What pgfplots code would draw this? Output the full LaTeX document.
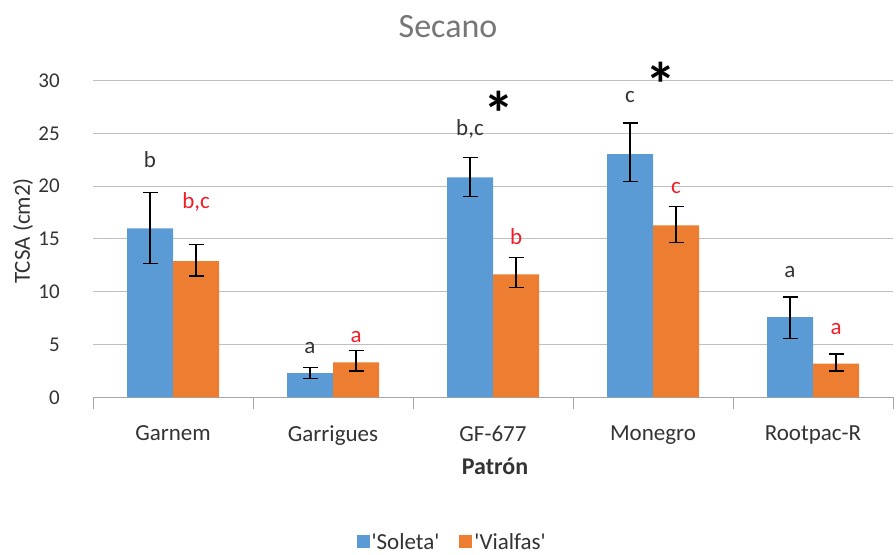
\documentclass[border=0pt]{standalone}
\usepackage{pgfplots}
\pgfplotsset{compat=1.18}
\usepackage{fontspec}
\setmainfont{Carlito}
\definecolor{sblue}{HTML}{5B9BD5}
\definecolor{sorange}{HTML}{ED7D31}
\definecolor{gridgray}{HTML}{BFBFBF}
\definecolor{axgray}{HTML}{A6A6A6}
\definecolor{lred}{HTML}{F01E28}
\definecolor{titlegray}{HTML}{767676}
\definecolor{txt}{HTML}{333333}
\begin{document}
\begin{tikzpicture}[x=1pt,y=1pt]
\path[use as bounding box] (0,0) rectangle (896,554);
\begin{axis}[
  at={(93pt,156.7pt)}, anchor=south west,
  scale only axis, width=800pt, height=316.6pt,
  ymin=0, ymax=30, xmin=-0.5, xmax=4.5,
  enlarge x limits=false,
  clip=false,
  axis lines*=left,
  y axis line style={draw=none},
  x axis line style={axgray, line width=1.2pt},
  ytick={0,5,...,30},
  ymajorgrids,
  grid style={gridgray, line width=1pt},
  major y tick style={draw=none},
  xtick={0,1,2,3,4},
  xticklabels={Garnem,Garrigues,GF-677,Monegro,Rootpac-R},
  major x tick style={draw=none},
  minor xtick={-0.5,0.5,1.5,2.5,3.5,4.5},
  minor x tick style={axgray, line width=1pt},
  minor tick length=12pt,
  tick align=center,
  yticklabel style={font=\fontsize{21}{21}\selectfont, text=txt, anchor=east, inner sep=0pt, xshift=-31pt},
  xticklabel style={font=\fontsize{23}{23}\selectfont, text=txt, anchor=north, inner sep=0pt, yshift=-24pt},
  /pgf/number format/assume math mode=true,
  ybar=0pt, bar width=46pt,
  legend style={at={(axis description cs:0.449,-0.457)}, anchor=center, draw=none,
    font=\fontsize{23}{23}\selectfont, text=txt,
    /tikz/every even column/.append style={column sep=18pt}},
  legend columns=2,
  legend image code/.code={\fill[#1] (0pt,-6.5pt) rectangle (13pt,6.5pt);},
]
\addplot[fill=sblue, draw=none,
  error bars/.cd, y dir=both, y explicit,
  error bar style={black, line width=1.2pt},
  error mark options={rotate=90, black, mark size=7.5pt, line width=1.2pt}]
coordinates {
  (0,16.0) += (0,3.4) -= (0,3.3)
  (1,2.3) += (0,0.55) -= (0,0.5)
  (2,20.85) += (0,1.9) -= (0,1.85)
  (3,23.05) += (0,2.95) -= (0,2.6)
  (4,7.6) += (0,1.9) -= (0,2.0)
};
\addlegendentry{\textquotesingle Soleta\textquotesingle}
\addplot[fill=sorange, draw=none,
  error bars/.cd, y dir=both, y explicit,
  error bar style={black, line width=1.2pt},
  error mark options={rotate=90, black, mark size=7.5pt, line width=1.2pt}]
coordinates {
  (0,12.9) += (0,1.6) -= (0,1.4)
  (1,3.3) += (0,1.15) -= (0,0.8)
  (2,11.65) += (0,1.6) -= (0,1.25)
  (3,16.3) += (0,1.75) -= (0,1.6)
  (4,3.2) += (0,0.9) -= (0,0.7)
};
\addlegendentry{\textquotesingle Vialfas\textquotesingle}
% significance letters
\tikzset{lt/.style={font=\fontsize{23}{23}\selectfont, inner sep=0pt}}
\node[lt, text=txt] at (axis cs:-0.144,22.5) {b};
\node[lt, text=lred] at (axis cs:0.144,18.5) {b,c};
\node[lt, text=txt] at (axis cs:0.856,4.67) {a};
\node[lt, text=lred] at (axis cs:1.144,5.74) {a};
\node[lt, text=txt] at (axis cs:1.856,25.4) {b,c};
\node[lt, text=lred] at (axis cs:2.144,15.2) {b};
\node[lt, text=txt] at (axis cs:2.856,28.5) {c};
\node[lt, text=lred] at (axis cs:3.144,19.8) {c};
\node[lt, text=txt] at (axis cs:3.856,11.9) {a};
\node[lt, text=lred] at (axis cs:4.144,6.5) {a};
\node[font=\bfseries\fontsize{62}{62}\selectfont, inner sep=0pt, anchor=north] at (axis cs:2.04,29.0) {*};
\node[font=\bfseries\fontsize{62}{62}\selectfont, inner sep=0pt, anchor=north] at (axis cs:3.05,31.8) {*};
\end{axis}
\node[text=titlegray, font=\fontsize{34}{34}\selectfont] at (448,527) {Secano};
\node[text=txt, rotate=90, font=\fontsize{23}{23}\selectfont] at (23,323) {TCSA (cm2)};
\node[text=txt, font=\bfseries\fontsize{24}{24}\selectfont, anchor=north, inner sep=0pt] at (495,96) {Patrón};
\end{tikzpicture}
\end{document}
